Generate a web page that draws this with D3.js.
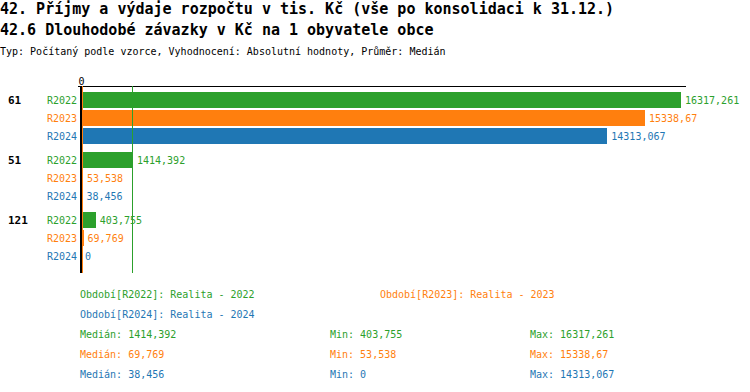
<!DOCTYPE html>
<html>
<head>
<meta charset="utf-8">
<script src="https://cdn.jsdelivr.net/npm/d3@7"></script>
<style>
  body { margin: 0; background: #fff; }
  text { font-family: "DejaVu Sans Mono", monospace; }
  line, rect { shape-rendering: crispEdges; }
</style>
</head>
<body>
<div id="chart"></div>
<script>
const titles = [
    '42. Příjmy a výdaje rozpočtu v tis. Kč (vše po konsolidaci k 31.12.)',
    '42.6 Dlouhodobé závazky v Kč na 1 obyvatele obce'
];
const subtitle = 'Typ: Počítaný podle vzorce, Vyhodnocení: Absolutní hodnoty, Průměr: Medián';

const groups = ['61', '51', '121'];
const series = ['R2022', 'R2023', 'R2024'];
const seriesNames = ['Realita - 2022', 'Realita - 2023', 'Realita - 2024'];
const values2022 = [16317.261, 1414.392, 403.755];
const values2023 = [15338.67, 53.538, 69.769];
const values2024 = [14313.067, 38.456, 0];
const colors = ['#2ca02c', '#ff7f0e', '#1f77b4'];

const allValues = [values2022, values2023, values2024];
const fmt = v => String(v).replace('.', ',');

const width = 750, height = 392;
const svg = d3.select('#chart').append('svg')
    .attr('width', width)
    .attr('height', height);

// titles
svg.append('text').attr('x', 0).attr('y', 14)
    .attr('font-size', 15).attr('font-weight', 'bold').text(titles[0]);
svg.append('text').attr('x', 0).attr('y', 35)
    .attr('font-size', 15).attr('font-weight', 'bold').text(titles[1]);
svg.append('text').attr('x', 0).attr('y', 55)
    .attr('font-size', 10).text(subtitle);

// scales
const maxVal = d3.max(allValues.flat());
const x = d3.scaleLinear().domain([0, maxVal]).range([81, 681]);
const y0 = d3.scaleBand().domain(groups).range([89, 269]);
const y1 = d3.scaleBand().domain(series).range([2, 56])
    .paddingInner(2 / 18).paddingOuter(1 / 18);
const color = d3.scaleOrdinal().domain(series).range(colors);

const axisTop = 86, axisBottom = 273;

// rows
const rows = [];
groups.forEach((g, gi) => {
    series.forEach((s, si) => {
        rows.push({group: g, series: s, value: allValues[si][gi]});
    });
});

const content = svg.append('g');

content.selectAll('rect.bar')
    .data(rows)
    .enter()
    .append('rect')
    .attr('class', 'bar')
    .attr('x', x(0))
    .attr('y', d => y0(d.group) + y1(d.series))
    .attr('width', d => x(d.value) - x(0))
    .attr('height', y1.bandwidth())
    .attr('fill', d => color(d.series));

// value labels
content.selectAll('text.val')
    .data(rows)
    .enter()
    .append('text')
    .attr('class', 'val')
    .attr('x', d => x(d.value) + 4)
    .attr('y', d => y0(d.group) + y1(d.series) + y1.bandwidth() / 2)
    .attr('dy', '0.35em')
    .attr('font-size', 10)
    .attr('fill', d => color(d.series))
    .text(d => fmt(d.value));

// series labels
content.selectAll('text.ser')
    .data(rows)
    .enter()
    .append('text')
    .attr('class', 'ser')
    .attr('x', 77)
    .attr('y', d => y0(d.group) + y1(d.series) + y1.bandwidth() / 2)
    .attr('dy', '0.35em')
    .attr('text-anchor', 'end')
    .attr('font-size', 10)
    .attr('fill', d => color(d.series))
    .text(d => d.series);

// group labels
content.selectAll('text.grp')
    .data(groups)
    .enter()
    .append('text')
    .attr('class', 'grp')
    .attr('x', 8)
    .attr('y', d => y0(d) + y1(series[0]) + y1.bandwidth() / 2)
    .attr('dy', '0.35em')
    .attr('font-size', 11)
    .attr('font-weight', 'bold')
    .text(d => d);

// stats
const medians = allValues.map(v => d3.median(v));
const mins = allValues.map(v => d3.min(v));
const maxs = allValues.map(v => d3.max(v));

// axis
content.append('rect')
    .attr('x', x(0) - 3).attr('y', axisTop - 0.5)
    .attr('width', x(maxVal) - x(0) + 8).attr('height', 1)
    .attr('fill', '#000');
content.append('rect')
    .attr('x', x(0) - 1).attr('y', axisTop)
    .attr('width', 2).attr('height', axisBottom - axisTop)
    .attr('fill', '#000');
content.append('text')
    .attr('x', x(0) + 0.5).attr('y', 85)
    .attr('text-anchor', 'middle')
    .attr('font-size', 10)
    .text('0');

// median lines (drawn last series first)
const medData = medians.map((m, i) => ({m: m, i: i})).reverse();
content.selectAll('rect.med')
    .data(medData)
    .enter()
    .append('rect')
    .attr('class', 'med')
    .attr('x', d => Math.max(Math.floor(x(d.m)) - 1, x(0) + 1))
    .attr('y', axisTop)
    .attr('width', 1)
    .attr('height', axisBottom - axisTop)
    .attr('fill', d => colors[d.i]);

// legend
const legend = svg.append('g').attr('font-size', 10);
const legendPos = [[80, 294], [380, 294], [80, 314]];
series.forEach((s, i) => {
    legend.append('text')
        .attr('x', legendPos[i][0]).attr('y', legendPos[i][1])
        .attr('dy', '0.35em')
        .attr('fill', colors[i])
        .text('Období[' + s + ']: ' + seriesNames[i]);
});

series.forEach((s, i) => {
    const yy = 334 + i * 20;
    [['Medián: ', medians[i], 80], ['Min: ', mins[i], 330], ['Max: ', maxs[i], 530]].forEach(c => {
        legend.append('text')
            .attr('x', c[2]).attr('y', yy)
            .attr('dy', '0.35em')
            .attr('fill', colors[i])
            .text(c[0] + fmt(c[1]));
    });
});
</script>
</body>
</html>
